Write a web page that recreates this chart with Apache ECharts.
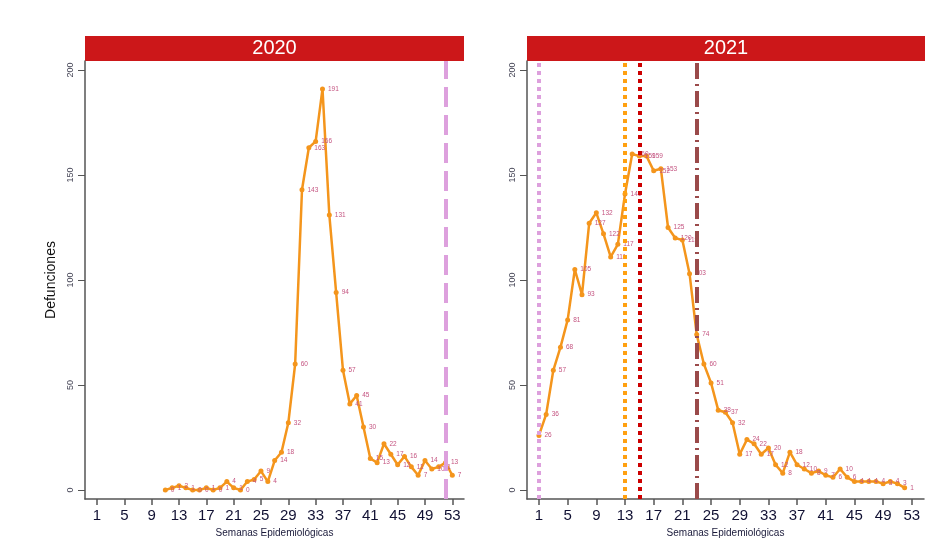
<!DOCTYPE html>
<html>
<head>
<meta charset="utf-8">
<script src="https://cdn.jsdelivr.net/npm/echarts@6/dist/echarts.min.js"></script>
<style>
  html, body { margin: 0; padding: 0; background: #fff; }
  #main { width: 949px; height: 556px; }
</style>
</head>
<body>
<div id="main"></div>
<script>
// semanas epidemiologicas y defunciones
var weeks2020 = [11, 12, 13, 14, 15, 16, 17, 18, 19, 20, 21, 22, 23, 24, 25, 26, 27, 28, 29, 30, 31, 32,
  33, 34, 35, 36, 37, 38, 39, 40, 41, 42, 43, 44, 45, 46, 47, 48, 49, 50, 51, 52, 53];
var deaths2020 = [0, 1, 2, 1, 0, 0, 1, 0, 1, 4, 1, 0, 4, 5, 9, 4, 14, 18, 32, 60, 143, 163,
  166, 191, 131, 94, 57, 41, 45, 30, 15, 13, 22, 17, 12, 16, 11, 7, 14, 10, 11, 13, 7];

var weeks2021 = [1, 2, 3, 4, 5, 6, 7, 8, 9, 10, 11, 12, 13, 14, 15, 16, 17, 18, 19, 20, 21, 22, 23, 24, 25, 26,
  27, 28, 29, 30, 31, 32, 33, 34, 35, 36, 37, 38, 39, 40, 41, 42, 43, 44, 45, 46, 47, 48, 49, 50, 51, 52];
var deaths2021 = [26, 36, 57, 68, 81, 105, 93, 127, 132, 122, 111, 117, 141, 160, 159, 159, 152, 153, 125, 120, 119, 103, 74, 60, 51, 38,
  37, 32, 17, 24, 22, 17, 20, 12, 8, 18, 12, 10, 8, 9, 7, 6, 10, 6, 4, 4, 4, 4, 3, 4, 3, 1];

var xTicks = [1, 5, 9, 13, 17, 21, 25, 29, 33, 37, 41, 45, 49, 53];
var yTicks = [0, 50, 100, 150, 200];

var lines2020 = [52];
var lines2021 = [1, 13, 15, 23];

var chart = echarts.init(document.getElementById('main'));

var lineColor = '#F4951C';
var labelColor = '#C45480';
var font = 'Liberation Sans, Arial, sans-serif';

function pairs(xs, ys) {
  return xs.map(function (x, i) { return [x, ys[i]]; });
}

function xAxisFor(idx, min, max) {
  return {
    type: 'value', gridIndex: idx, min: min, max: max,
    name: 'Semanas Epidemiológicas', nameLocation: 'middle', nameGap: 29,
    nameTextStyle: { fontSize: 10, color: '#1a1a3a', fontFamily: font },
    splitLine: { show: false },
    axisLine: { show: true, onZero: false, lineStyle: { color: '#555', width: 1.5 } },
    axisTick: { show: true, length: 6, customValues: xTicks, lineStyle: { color: '#555', width: 1.5 } },
    axisLabel: { customValues: xTicks, fontSize: 15, color: '#111133', margin: 9, fontFamily: font }
  };
}

function yAxisFor(idx, withName) {
  return {
    type: 'value', gridIndex: idx, min: -4.3, max: 204.3,
    name: withName ? 'Defunciones' : '', nameLocation: 'middle', nameGap: 27, nameRotate: 90,
    nameTextStyle: { fontSize: 14, color: '#111', fontFamily: font },
    splitLine: { show: false },
    axisLine: { show: true, onZero: false, lineStyle: { color: '#555', width: 1.5 } },
    axisTick: { show: true, length: 7, customValues: yTicks, lineStyle: { color: '#555' } },
    axisLabel: { customValues: yTicks, rotate: 90, fontSize: 9, color: '#445', margin: 10, fontFamily: font }
  };
}

function lineSeries(idx, xs, ys, marks) {
  return {
    type: 'line', xAxisIndex: idx, yAxisIndex: idx,
    data: pairs(xs, ys),
    symbol: 'circle', symbolSize: 5,
    itemStyle: { color: lineColor },
    lineStyle: { color: lineColor, width: 2.5 },
    label: { show: true, position: 'right', distance: 3, fontSize: 6.5, color: labelColor, fontFamily: font },
    animation: false,
    markLine: { silent: true, symbol: 'none', label: { show: false }, animation: false, data: marks }
  };
}

var styles2021 = [
  { color: '#DDA0DD', width: 4, type: [4, 4] },
  { color: '#FFA010', width: 4, type: [4, 4] },
  { color: '#CD0000', width: 4, type: [4, 4] },
  { color: '#9A4A4A', width: 4, type: [16, 5, 2, 5] }
];

chart.setOption({
  backgroundColor: '#fff',
  graphic: [
    { type: 'rect', shape: { x: 85, y: 36, width: 379, height: 25 }, style: { fill: '#CC1719' } },
    { type: 'text', x: 274.5, y: 48.5, style: { text: '2020', fill: '#fff', fontSize: 20, fontFamily: font, align: 'center', verticalAlign: 'middle' } },
    { type: 'rect', shape: { x: 527, y: 36, width: 398, height: 25 }, style: { fill: '#CC1719' } },
    { type: 'text', x: 726, y: 48.5, style: { text: '2021', fill: '#fff', fontSize: 20, fontFamily: font, align: 'center', verticalAlign: 'middle' } }
  ],
  grid: [
    { left: 85, top: 61, width: 379, height: 438 },
    { left: 527, top: 61, width: 397, height: 438 }
  ],
  xAxis: [xAxisFor(0, -0.757, 54.71), xAxisFor(1, -0.67, 54.7)],
  yAxis: [yAxisFor(0, true), yAxisFor(1, false)],
  series: [
    lineSeries(0, weeks2020, deaths2020, lines2020.map(function (w) {
      return { xAxis: w, lineStyle: { color: '#DDA0DD', width: 4, type: [20, 8] } };
    })),
    lineSeries(1, weeks2021, deaths2021, lines2021.map(function (w, i) {
      return { xAxis: w, lineStyle: styles2021[i] };
    }))
  ]
});

window.addEventListener('resize', function () {
  chart.resize();
});
</script>
</body>
</html>
